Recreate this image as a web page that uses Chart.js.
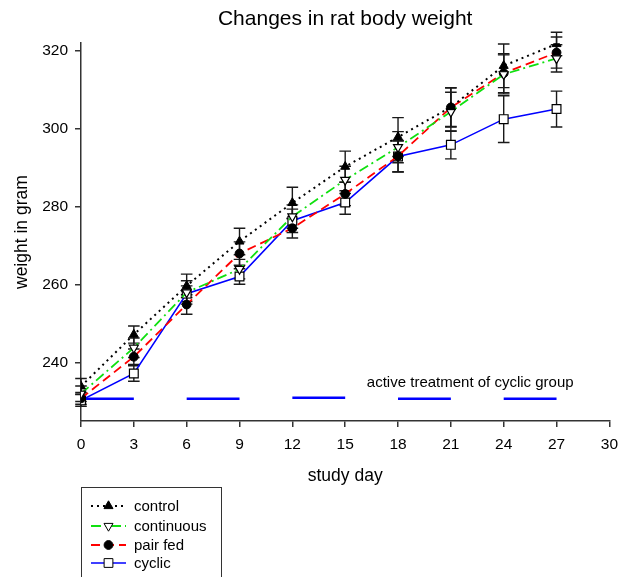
<!DOCTYPE html>
<html lang="en">
<head>
<meta charset="UTF-8" />
<title>Changes in rat body weight</title>
<script src="https://cdn.jsdelivr.net/npm/chart.js"></script>
<style>
	html, body { margin: 0; padding: 0; background: #fff; }
	#wrap { width: 626px; height: 577px; }
</style>
</head>
<body>
<div id="wrap"><canvas id="myChart" width="626" height="577"></canvas></div>
<script>
	// data
	var days = [0, 3, 6, 9, 12, 15, 18, 21, 24, 27];
	var control = [233.9, 247.2, 259.7, 271.1, 281.0, 290.3, 297.9, 305.6, 316.2, 321.8];
	var continuous = [232.0, 243.8, 258.0, 264.0, 277.5, 286.9, 295.3, 304.4, 314.0, 318.1];
	var pairFed = [230.8, 241.5, 254.9, 268.0, 274.5, 283.3, 293.0, 305.5, 314.3, 319.6];
	var cyclic = [230.3, 237.2, 257.7, 262.1, 276.4, 281.1, 292.9, 295.9, 302.5, 305.1];

	var controlErr = [2.0, 2.2, 3.0, 3.4, 4.0, 4.0, 5.0, 5.0, 5.6, 3.0];
	var continuousErr = [2.0, 2.5, 3.0, 2.5, 3.0, 3.5, 4.0, 5.0, 5.0, 3.5];
	var pairFedErr = [1.5, 2.0, 2.5, 3.0, 2.5, 3.0, 4.0, 5.0, 5.0, 4.0];
	var cyclicErr = [1.5, 2.0, 2.0, 2.0, 3.0, 3.0, 4.0, 3.6, 6.0, 4.6];

	var treatStart = [0, 6, 12, 18, 24];
	var treatEnd = [3, 9, 15, 21, 27];
	var treatLevel = [230.7, 230.7, 231.0, 230.7, 230.7];
	var treatNote = "active treatment of cyclic group";
	var treatNoteAt = { x: 22.1, y: 234.9 };

	var yTicks = [240, 260, 280, 300, 320];

	function pts(arr) {
		return days.map(function (d, i) { return { x: d, y: arr[i] }; });
	}

	var treatData = [];
	treatStart.forEach(function (s, i) {
		treatData.push({ x: s, y: treatLevel[i] }, { x: treatEnd[i], y: treatLevel[i] }, { x: treatEnd[i], y: null });
	});

	var FONT = "'Liberation Sans', Arial, Helvetica, sans-serif";

	// error bars, drawn under the markers
	var errorBars = {
		id: "errorBars",
		beforeDatasetsDraw: function (chart) {
			var ctx = chart.ctx, xs = chart.scales.x, ys = chart.scales.y;
			ctx.save();
			ctx.strokeStyle = "#1a1a1a";
			ctx.lineWidth = 1.4;
			chart.data.datasets.forEach(function (ds) {
				if (!ds.err) return;
				days.forEach(function (d, i) {
					var px = xs.getPixelForValue(d);
					var top = ys.getPixelForValue(ds.raw[i] + ds.err[i]);
					var bot = ys.getPixelForValue(ds.raw[i] - ds.err[i]);
					ctx.beginPath();
					ctx.moveTo(px, top); ctx.lineTo(px, bot);
					ctx.moveTo(px - 5.8, top); ctx.lineTo(px + 5.8, top);
					ctx.moveTo(px - 5.8, bot); ctx.lineTo(px + 5.8, bot);
					ctx.stroke();
				});
			});
			ctx.restore();
		},
	};

	// note text + boxed legend
	var extras = {
		id: "extras",
		afterDraw: function (chart) {
			var ctx = chart.ctx, xs = chart.scales.x, ys = chart.scales.y;
			ctx.save();
			ctx.fillStyle = "#000";
			ctx.font = "15px " + FONT;
			ctx.textAlign = "center";
			ctx.textBaseline = "middle";
			ctx.fillText(treatNote, xs.getPixelForValue(treatNoteAt.x), ys.getPixelForValue(treatNoteAt.y));

			// legend
			var bx = 81, by = 487;
			ctx.strokeStyle = "#333";
			ctx.lineWidth = 1;
			ctx.strokeRect(bx + 0.5, by + 0.5, 140, 110);
			var rows = [506, 526, 545, 563];
			chart.data.datasets.slice(0, 4).forEach(function (ds, i) {
				var y = rows[i];
				ctx.save();
				ctx.strokeStyle = ds.borderColor;
				ctx.lineWidth = ds.borderWidth;
				ctx.setLineDash(ds.borderDash || []);
				ctx.beginPath();
				ctx.moveTo(91, y); ctx.lineTo(126, y);
				ctx.stroke();
				ctx.restore();
				ctx.save();
				ctx.fillStyle = ds.pointBackgroundColor;
				ctx.strokeStyle = ds.pointBorderColor;
				Chart.helpers.drawPoint(ctx, {
					pointStyle: ds.pointStyle, radius: ds.pointRadius,
					rotation: ds.pointRotation || 0, borderWidth: ds.pointBorderWidth,
				}, 108.5, y);
				ctx.restore();
				ctx.fillStyle = "#000";
				ctx.font = "15px " + FONT;
				ctx.textAlign = "left";
				ctx.fillText(ds.label, 134, y + 1);
			});
			ctx.restore();
		},
	};

	var ctx = document.getElementById("myChart").getContext("2d");
	var myChart = new Chart(ctx, {
		type: "line",
		plugins: [errorBars, extras],
		data: {
			datasets: [
				{
					label: "control", data: pts(control), raw: control, err: controlErr,
					borderColor: "#000", borderWidth: 2, borderDash: [2, 4],
					pointStyle: "triangle", pointRadius: 5.2, pointBackgroundColor: "#000",
					pointBorderColor: "#000", pointBorderWidth: 1,
				},
				{
					label: "continuous", data: pts(continuous), raw: continuous, err: continuousErr,
					borderColor: "#10e010", borderWidth: 1.8, borderDash: [10, 4, 2, 4],
					pointStyle: "triangle", pointRotation: 180, pointRadius: 5.2,
					pointBackgroundColor: "#fff", pointBorderColor: "#000", pointBorderWidth: 1.2,
				},
				{
					label: "pair fed", data: pts(pairFed), raw: pairFed, err: pairFedErr,
					borderColor: "#ff0000", borderWidth: 1.8, borderDash: [9, 5],
					pointStyle: "circle", pointRadius: 4.4, pointBackgroundColor: "#000",
					pointBorderColor: "#000", pointBorderWidth: 1,
				},
				{
					label: "cyclic", data: pts(cyclic), raw: cyclic, err: cyclicErr,
					borderColor: "#0000ff", borderWidth: 1.6,
					pointStyle: "rect", pointRadius: 6.2, pointBackgroundColor: "#fff",
					pointBorderColor: "#000", pointBorderWidth: 1.2,
				},
				{
					label: "treatment", data: treatData,
					borderColor: "#0000ff", borderWidth: 2.5, pointRadius: 0, spanGaps: false,
				},
			],
		},
		options: {
			responsive: false,
			animation: false,
			events: [],
			layout: { padding: { left: 0, right: 16, top: 0, bottom: 86 } },
			elements: { line: { tension: 0 } },
			scales: {
				x: {
					type: "linear", min: 0, max: 30,
					afterFit: function (s) { s.height = 70; },
					border: { display: true, color: "#333", width: 1.5 },
					grid: { drawOnChartArea: false, drawTicks: true, tickLength: 6, color: "#333", lineWidth: 1.5 },
					ticks: { stepSize: 3, color: "#000", font: { size: 15.5, family: FONT }, padding: 8, maxRotation: 0 },
					title: { display: true, text: "study day", color: "#000", font: { size: 17.5, family: FONT }, padding: { top: 14 } },
				},
				y: {
					min: 225, max: 322,
					afterFit: function (s) { s.width = 81; },
					afterBuildTicks: function (s) { s.ticks = yTicks.map(function (v) { return { value: v }; }); },
					border: { display: true, color: "#333", width: 1.5 },
					grid: { drawOnChartArea: false, drawTicks: true, tickLength: 6, color: "#333", lineWidth: 1.5 },
					ticks: { color: "#000", font: { size: 15.5, family: FONT }, padding: 7 },
					title: { display: true, text: "weight in gram", color: "#000", font: { size: 17.5, family: FONT }, padding: { top: 12, bottom: 0 } },
				},
			},
			plugins: {
				legend: { display: false },
				tooltip: { enabled: false },
				title: {
					display: true, fullSize: false, text: "Changes in rat body weight",
					color: "#000", font: { size: 21, weight: "normal", family: FONT },
					padding: { top: 7, bottom: 11 },
				},
			},
		},
	});
</script>
</body>
</html>
